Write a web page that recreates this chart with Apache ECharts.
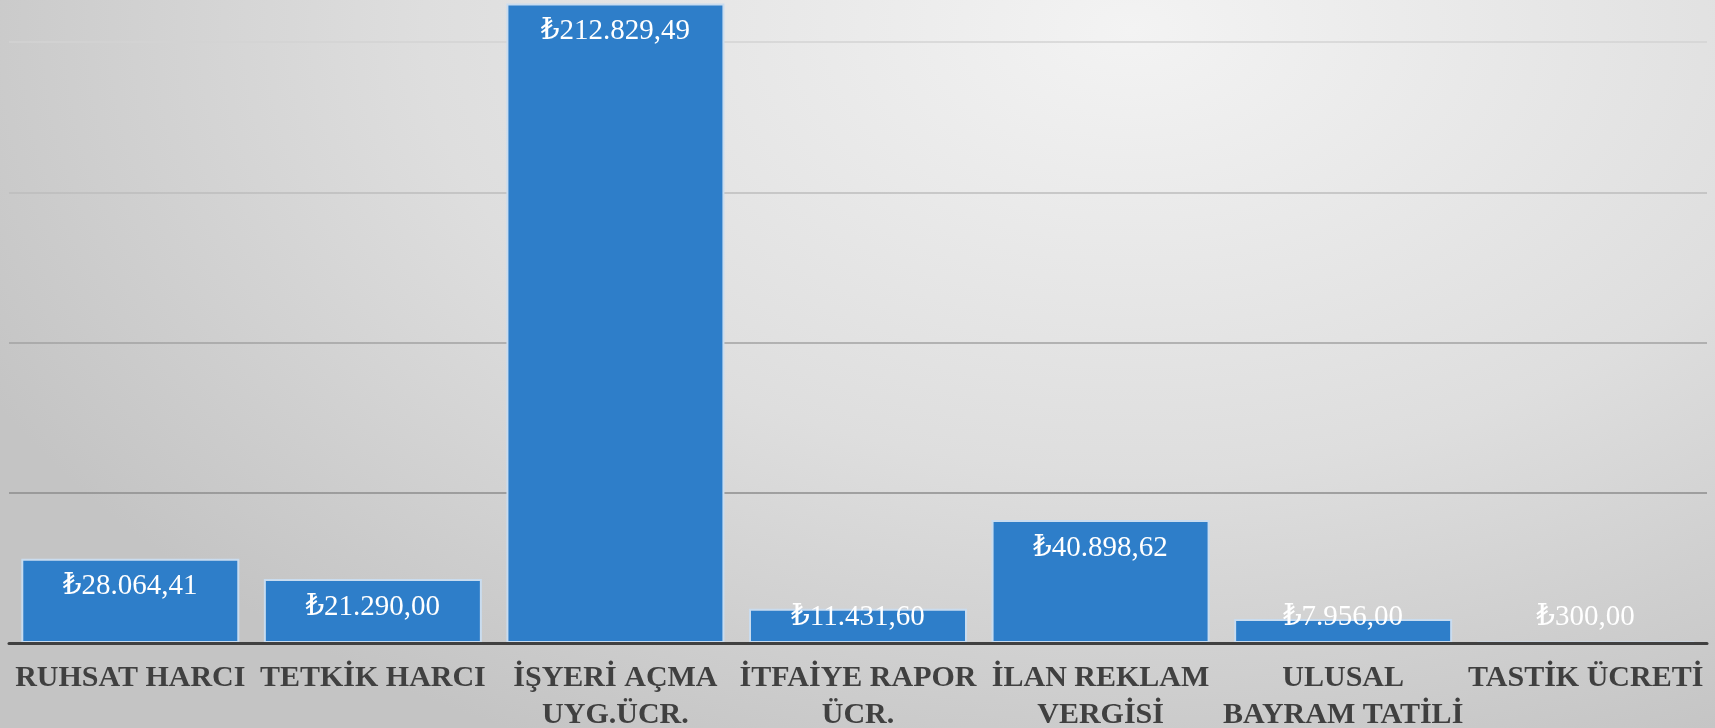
<!DOCTYPE html>
<html>
<head>
<meta charset="utf-8">
<script src="https://cdn.jsdelivr.net/npm/echarts@6/dist/echarts.min.js"></script>
<style>
  html, body { margin: 0; padding: 0; }
  #chart {
    width: 1715px;
    height: 728px;
    background: radial-gradient(ellipse 75% 110% at 66% 4%, #f3f3f3 0%, #dedede 55%, #c4c4c4 100%);
  }
</style>
</head>
<body>
<div id="chart"></div>
<script>
// kategoriler (iki satirlik etiketler)
var categories = [
  'RUHSAT HARCI',
  'TETKİK HARCI',
  'İŞYERİ AÇMA\nUYG.ÜCR.',
  'İTFAİYE RAPOR\nÜCR.',
  'İLAN REKLAM\nVERGİSİ',
  'ULUSAL\nBAYRAM TATİLİ',
  'TASTİK ÜCRETİ'
]
var amounts = [28064.41, 21290.00, 212829.49, 11431.60, 40898.62, 7956.00, 300.00]
var yMin = 0
var yMax = 214000
var yInterval = 50000

function formatTL(v) {
  var parts = v.toFixed(2).split('.')
  var intPart = parts[0].replace(/\B(?=(\d{3})+(?!\d))/g, '.')
  return '₺' + intPart + ',' + parts[1]
}

var chart = echarts.init(document.getElementById('chart'))
chart.setOption({
  backgroundColor: 'transparent',
  animation: false,
  grid: {
    left: 9,
    right: 8,
    top: 0,
    bottom: 85,
    containLabel: false,
    outerBoundsMode: 'none'
  },
  xAxis: {
    type: 'category',
    data: categories,
    z: 5,
    axisTick: { show: false },
    axisLine: {
      lineStyle: { color: '#404040', width: 3 }
    },
    axisLabel: {
      interval: 0,
      margin: 17,
      color: '#404040',
      fontFamily: "'Liberation Serif', 'DejaVu Serif', serif",
      fontWeight: 'bold',
      fontSize: 30,
      lineHeight: 37
    }
  },
  yAxis: {
    type: 'value',
    min: yMin,
    max: yMax,
    interval: yInterval,
    axisLabel: { show: false },
    axisLine: { show: false },
    axisTick: { show: false },
    splitLine: {
      lineStyle: {
        // alttan uste: 0, 50k, 100k, 150k, 200k, ust kenar
        color: ['rgba(0,0,0,0)', '#8c8c8c', '#a2a2a2', '#bdbdbd', '#d3d3d3', 'rgba(0,0,0,0)'],
        width: 1.5
      }
    }
  },
  series: [{
    type: 'bar',
    data: amounts,
    barWidth: 218,
    itemStyle: {
      color: '#2e7ec9',
      borderColor: '#c9dcef',
      borderWidth: 2
    },
    label: {
      show: true,
      position: 'insideTop',
      color: '#ffffff',
      fontFamily: "'Liberation Serif', 'DejaVu Serif', serif",
      fontSize: 29,
      formatter: function (p) { return formatTL(p.value) }
    },
    labelLayout: function (p) {
      // kisa cubuklarda etiket taban cizgisinin ustunde sabit kalir
      return {
        x: p.rect.x + p.rect.width / 2,
        y: Math.min(p.rect.y + 28, 617),
        align: 'center',
        verticalAlign: 'middle'
      }
    }
  }]
})
</script>
</body>
</html>
